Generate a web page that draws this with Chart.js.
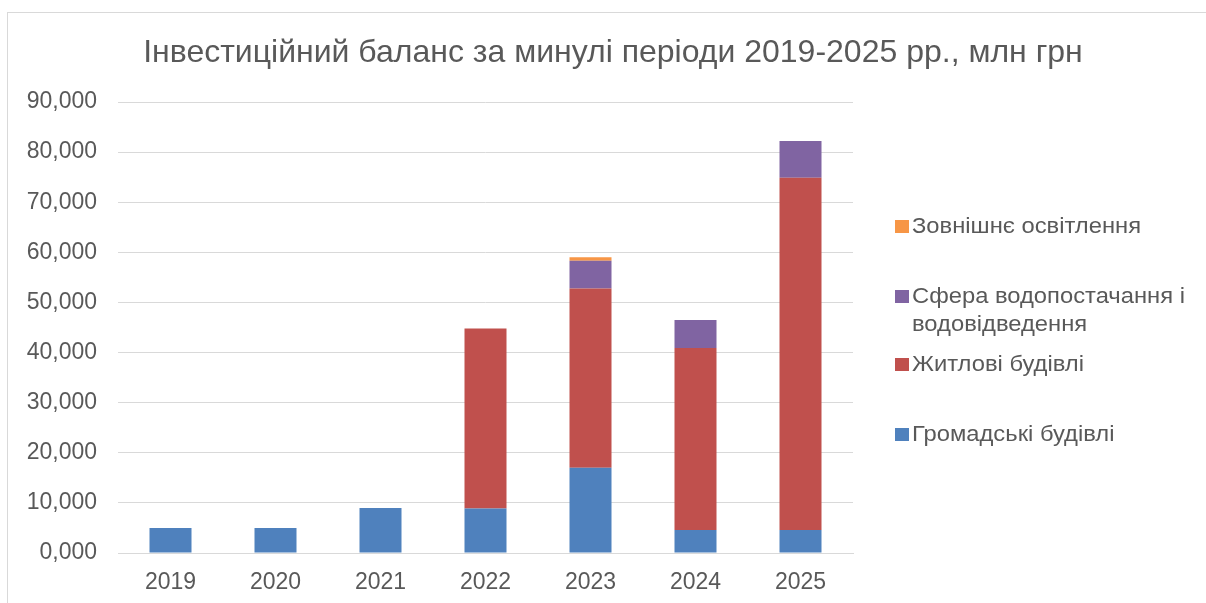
<!DOCTYPE html>
<html>
<head>
<meta charset="utf-8">
<script src="https://cdn.jsdelivr.net/npm/chart.js@4/dist/chart.umd.min.js"></script>
<style>
  html, body { margin: 0; padding: 0; background: #ffffff; overflow: hidden; }
  canvas { display: block; }
</style>
</head>
<body>
<canvas id="c" width="1206" height="603"></canvas>
<script>
// ---- data ----
const categories = ['2019', '2020', '2021', '2022', '2023', '2024', '2025'];
const seriesNames = ['Громадські будівлі', 'Житлові будівлі', 'Сфера водопостачання і водовідведення', 'Зовнішнє освітлення'];
const publicBuildings      = [5.0, 5.0, 9.0, 8.9, 17.0, 4.6, 4.6];
const residentialBuildings = [null, null, null, 35.9, 35.8, 36.3, 70.3];
const waterSupply          = [null, null, null, null, 5.5, 5.6, 7.3];
const streetLighting       = [null, null, null, null, 0.7, null, null];
const titleText = 'Інвестиційний баланс за минулі періоди 2019-2025 рр., млн грн';
const yMin = 0, yMax = 90, yStep = 10;

const colors = ['#4f81bd', '#c0504d', '#8064a2', '#f79646'];
const textColor = '#595959';
const fontFamily = '"Liberation Sans", Arial, sans-serif';

const seriesValues = [publicBuildings, residentialBuildings, waterSupply, streetLighting];

const decorPlugin = {
  id: 'decor',
  beforeDraw(chart) {
    const ctx = chart.ctx;
    ctx.save();
    ctx.strokeStyle = '#d9d9d9';
    ctx.lineWidth = 1;
    ctx.strokeRect(7.5, 12.5, 1400, 800);
    ctx.restore();
  },
  afterDraw(chart) {
    const ctx = chart.ctx;
    ctx.save();
    // title
    ctx.fillStyle = textColor;
    ctx.font = '32px ' + fontFamily;
    ctx.textAlign = 'center';
    ctx.textBaseline = 'alphabetic';
    ctx.fillText(titleText, 613, 62);
    // legend (reverse order)
    const entries = [
      { i: 3, lines: ['Зовнішнє освітлення'], y: 226 },
      { i: 2, lines: ['Сфера водопостачання і', 'водовідведення'], y: 296 },
      { i: 1, lines: ['Житлові будівлі'], y: 364 },
      { i: 0, lines: ['Громадські будівлі'], y: 434 }
    ];
    ctx.textAlign = 'left';
    ctx.textBaseline = 'middle';
    entries.forEach(e => {
      const ds = chart.data.datasets[e.i];
      ctx.fillStyle = ds.backgroundColor;
      ctx.fillRect(895, e.y - 6, 14, 13);
      ctx.fillStyle = textColor;
      e.lines.forEach((ln, k) => {
        ctx.save();
        ctx.translate(912, e.y + 1 + k * 28);
        ctx.scale(1.08, 1);
        ctx.font = '22px ' + fontFamily;
        ctx.fillText(ln, 0, 0);
        ctx.restore();
      });
    });
    ctx.restore();
  }
};

new Chart(document.getElementById('c'), {
  type: 'bar',
  data: {
    labels: categories,
    datasets: seriesValues.map((vals, i) => ({
      label: seriesNames[i],
      data: vals,
      backgroundColor: colors[i],
      borderWidth: 0,
      barPercentage: 0.4,
      categoryPercentage: 1.0
    }))
  },
  options: {
    responsive: false,
    animation: false,
    devicePixelRatio: 1,
    layout: { padding: { top: 102, right: 353, left: 0, bottom: 0 } },
    plugins: {
      legend: { display: false },
      title: { display: false },
      tooltip: { enabled: false }
    },
    scales: {
      x: {
        stacked: true,
        grid: { display: false, drawTicks: false },
        border: { display: true, color: '#d9d9d9', width: 1 },
        ticks: {
          color: textColor,
          font: { family: fontFamily, size: 23 },
          padding: 16,
          maxRotation: 0
        },
        afterFit(scale) { scale.height = 50; }
      },
      y: {
        stacked: true,
        min: yMin,
        max: yMax,
        grid: { color: '#d9d9d9', lineWidth: 1, drawTicks: false },
        border: { display: false },
        ticks: {
          stepSize: yStep,
          color: textColor,
          font: { family: fontFamily, size: 23 },
          padding: 21,
          callback: v => v.toFixed(3).replace('.', ',')
        },
        afterFit(scale) { scale.width = 118; }
      }
    }
  },
  plugins: [decorPlugin]
});
</script>
</body>
</html>
